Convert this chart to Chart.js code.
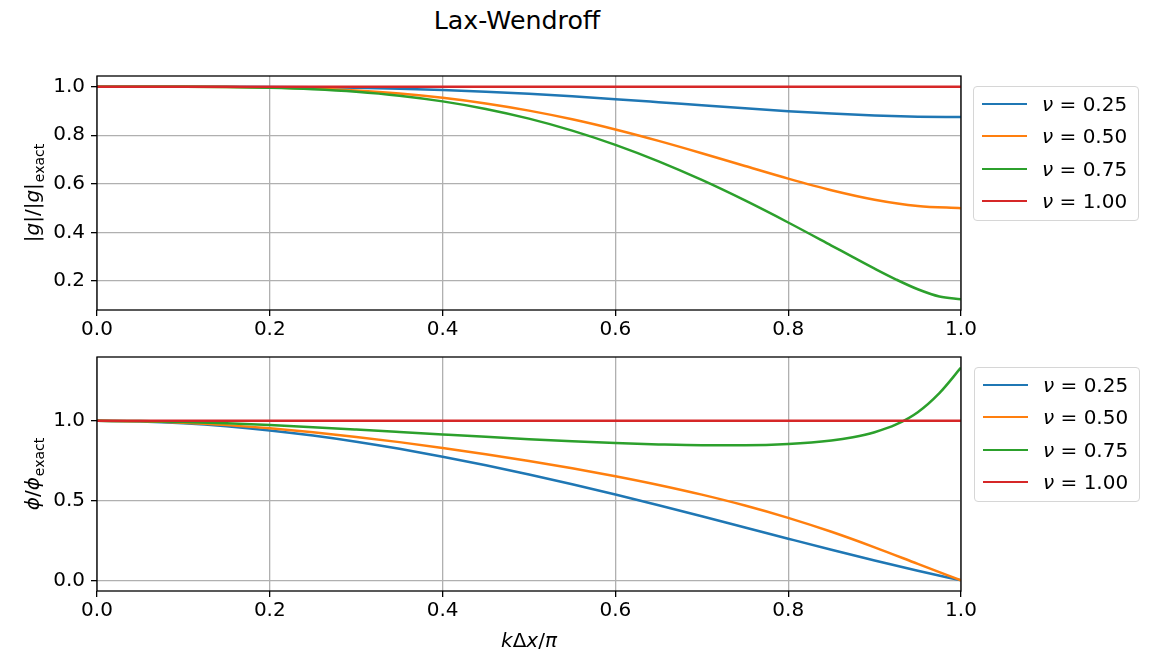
<!DOCTYPE html>
<html>
<head>
<meta charset="utf-8">
<script src="https://cdn.jsdelivr.net/npm/chart.js@4.4.1/dist/chart.umd.min.js"></script>
<style>
  html, body { margin: 0; padding: 0; background: #fff; }
  #fig { position: relative; width: 1160px; height: 656px; overflow: hidden;
         font-family: 'DejaVu Sans', sans-serif; color: #000; }
  canvas { position: absolute; left: 0; }
  .txt { position: absolute; white-space: nowrap; font-size: 20px; line-height: 20px; }
  .titre { left: 517px; top: 8px; font-size: 25.3px; line-height: 25px; transform: translateX(-50%); }
  .ylab { transform: translate(-50%, -50%) rotate(-90deg); }
  .sub { font-size: 14px; position: relative; top: 5px; margin-left: 1px; }
  .legende { position: absolute; width: 166px; height: 135px; box-sizing: border-box;
             border: 1px solid #d6d6d6; border-radius: 4px; background: rgba(255,255,255,0.8); }
  .ligne { position: absolute; left: 8px; width: 45px; height: 2px; }
  .etiq { position: absolute; left: 68px; font-size: 20px; line-height: 20px; white-space: nowrap; }
</style>
</head>
<body>
<div id="fig">
  <div class="txt titre">Lax-Wendroff</div>
  <canvas id="haut" width="1160" height="345" style="top:0px"></canvas>
  <canvas id="bas" width="1160" height="336" style="top:320px"></canvas>
  <div class="txt ylab" style="left:33px; top:193px">|<i>g</i>|/|<i>g</i>|<span class="sub">exact</span></div>
  <div class="txt ylab" style="left:33px; top:474px"><i>ϕ</i>/<i>ϕ</i><span class="sub">exact</span></div>
  <div class="txt" style="left:529px; top:630px; transform:translateX(-50%)"><i>k</i>Δ<i>x</i>/<i>π</i></div>
  <div class="legende" id="legHaut" style="left:973px; top:86px"></div>
  <div class="legende" id="legBas" style="left:974px; top:367px"></div>
</div>
<script>
// kΔx/π
var kdx = [0, 0.05, 0.1, 0.15, 0.2, 0.25, 0.3, 0.35, 0.4, 0.45, 0.5,
           0.55, 0.6, 0.65, 0.7, 0.75, 0.8, 0.85, 0.9, 0.95, 1.0];
// plus fin vers la fin pour les courbes vertes
var kdxFin = [0, 0.05, 0.1, 0.15, 0.2, 0.25, 0.3, 0.35, 0.4, 0.45, 0.5,
              0.55, 0.6, 0.65, 0.7, 0.75, 0.8, 0.85, 0.875, 0.9, 0.925, 0.95, 0.975, 1.0];

var nus = ['0.25', '0.50', '0.75', '1.00'];
var couleurs = ['#1f77b4', '#ff7f0e', '#2ca02c', '#d62728'];

// |g|/|g|exact
var amp025 = [1.0, 1.0, 0.9999, 0.9997, 0.9989, 0.9975, 0.9950, 0.9912, 0.9859, 0.9789, 0.9703,
              0.9600, 0.9485, 0.9360, 0.9232, 0.9106, 0.8990, 0.8891, 0.8815, 0.8766, 0.8750];
var amp050 = [1.0, 1.0, 0.9998, 0.9989, 0.9966, 0.9919, 0.9839, 0.9717, 0.9542, 0.9309, 0.9014,
              0.8656, 0.8238, 0.7769, 0.7262, 0.6735, 0.6216, 0.5740, 0.5350, 0.5091, 0.5000];
var amp075 = [1.0, 1.0, 0.9997, 0.9985, 0.9955, 0.9894, 0.9789, 0.9626, 0.9394, 0.9082, 0.8683,
              0.8191, 0.7605, 0.6926, 0.6161, 0.5318, 0.4412, 0.3464, 0.2986, 0.2514, 0.2065,
              0.1665, 0.1366, 0.1250];
var amp100 = [1, 1, 1, 1, 1, 1, 1, 1, 1, 1, 1, 1, 1, 1, 1, 1, 1, 1, 1, 1, 1];

// phi/phi exact
var ph025 = [1.0, 0.9962, 0.9847, 0.9658, 0.9399, 0.9074, 0.8688, 0.8245, 0.7753, 0.7215, 0.6636,
             0.6022, 0.5377, 0.4707, 0.4018, 0.3317, 0.2613, 0.1917, 0.1242, 0.0598, 0.0];
var ph050 = [1.0, 0.9969, 0.9878, 0.9730, 0.9529, 0.9281, 0.8991, 0.8664, 0.8303, 0.7911, 0.7487,
             0.7028, 0.6529, 0.5981, 0.5373, 0.4691, 0.3919, 0.3045, 0.2072, 0.1034, 0.0];
var ph075 = [1.0, 0.9982, 0.9930, 0.9846, 0.9735, 0.9604, 0.9458, 0.9305, 0.9149, 0.8996, 0.8851,
             0.8719, 0.8607, 0.8519, 0.8467, 0.8466, 0.8545, 0.8766, 0.8972, 0.9285, 0.9771,
             1.0541, 1.1737, 1.3333];
var ph100 = [1, 1, 1, 1, 1, 1, 1, 1, 1, 1, 1, 1, 1, 1, 1, 1, 1, 1, 1, 1, 1];

var xTicks = [0, 0.2, 0.4, 0.6, 0.8, 1.0];
var yTicksHaut = [0.2, 0.4, 0.6, 0.8, 1.0];
var yTicksBas = [0.0, 0.5, 1.0];

function points (xs, ys) {
    return xs.map(function (x, i) { return {x: x, y: ys[i]}; });
}

function series (liste) {
    return liste.map(function (s, i) {
        return {
            label: '\u03bd = ' + nus[i],
            data: points(s[0], s[1]),
            borderColor: couleurs[i],
            backgroundColor: 'transparent',
            order: 4 - i
        };
    });
}

// cadre noir autour de la zone de tracé (les 4 côtés)
var cadre = {
    id: 'cadre',
    afterDraw: function (chart) {
        var a = chart.chartArea, ctx = chart.ctx;
        ctx.save();
        ctx.strokeStyle = '#000';
        ctx.lineWidth = 1.3;
        ctx.strokeRect(a.left, a.top, a.right - a.left, a.bottom - a.top);
        ctx.restore();
    }
};

function graphique (id, datasets, yMin, yMax, yTicks, padding) {
    var police = {family: 'DejaVu Sans', size: 20};
    var grille = {color: '#b0b0b0', lineWidth: 1.3, tickColor: '#000', tickLength: 6, tickWidth: 1.3};
    var ctx = document.getElementById(id).getContext('2d');
    return new Chart(ctx, {
        type: 'line',
        data: {datasets: datasets},
        options: {
            responsive: false,
            animation: false,
            events: [],
            layout: {padding: padding},
            plugins: {legend: {display: false}, tooltip: {enabled: false}},
            elements: {
                point: {radius: 0},
                line: {borderWidth: 2.5, cubicInterpolationMode: 'monotone'}
            },
            scales: {
                x: {
                    type: 'linear', min: 0, max: 1,
                    afterBuildTicks: function (s) { s.ticks = xTicks.map(function (v) { return {value: v}; }); },
                    afterFit: function (s) { s.height = 35; },
                    grid: grille,
                    border: {display: false},
                    ticks: {font: police, color: '#000', padding: 2, maxRotation: 0, autoSkip: false,
                            callback: function (v) { return v.toFixed(1); }}
                },
                y: {
                    type: 'linear', min: yMin, max: yMax,
                    afterBuildTicks: function (s) { s.ticks = yTicks.map(function (v) { return {value: v}; }); },
                    afterFit: function (s) { s.width = 97; },
                    grid: grille,
                    border: {display: false},
                    ticks: {font: police, color: '#000', padding: 6, autoSkip: false,
                            callback: function (v) { return v.toFixed(1); }}
                }
            }
        },
        plugins: [cadre]
    });
}

function legende (id, chart) {
    var box = document.getElementById(id);
    chart.data.datasets.forEach(function (ds, i) {
        var y = Math.round(16 + i * 32.4);
        var l = document.createElement('div');
        l.className = 'ligne';
        l.style.top = y + 'px';
        l.style.background = ds.borderColor;
        box.appendChild(l);
        var t = document.createElement('div');
        t.className = 'etiq';
        t.style.top = (y - 9) + 'px';
        t.innerHTML = '<i>\u03bd</i> = ' + nus[i];
        box.appendChild(t);
    });
}

var haut = graphique('haut', series([[kdx, amp025], [kdx, amp050], [kdxFin, amp075], [kdx, amp100]]),
    0.08125, 1.04375, yTicksHaut, {top: 76, right: 199, bottom: 0, left: 0});
var bas = graphique('bas', series([[kdx, ph025], [kdx, ph050], [kdxFin, ph075], [kdx, ph100]]),
    -0.0667, 1.4, yTicksBas, {top: 37, right: 199, bottom: 30, left: 0});

legende('legHaut', haut);
legende('legBas', bas);
</script>
</body>
</html>
